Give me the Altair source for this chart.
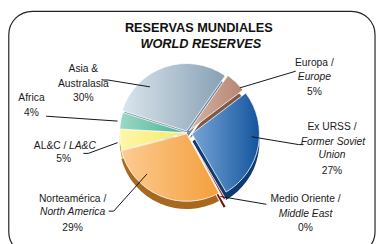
import math
import altair as alt
import pandas as pd

# ---------------- data ----------------
regions = ["Europa", "Ex URSS", "Medio Oriente", "Norteamérica", "AL&C", "Africa", "Asia & Australasia"]
shares = [5, 27, 0.5, 29, 5, 4, 30]          # % of world reserves (Medio Oriente shown as ~0%)

# label lines: (text, italic?)
label_lines = [
    [("Europa /", False), ("Europe", True), ("5%", False)],
    [("Ex URSS /", False), ("Former Soviet", True), ("Union", True), ("27%", False)],
    [("Medio Oriente /", False), ("Middle East", True), ("0%", False)],
    [("Norteamérica /", False), ("North America", True), ("29%", False)],
    [("AL&C /", False), ("LA&C", True), ("5%", False)],
    [("Africa", False), ("4%", False)],
    [("Asia &", False), ("Australasia", False), ("30%", False)],
]
title_lines = ["RESERVAS MUNDIALES", "WORLD RESERVES"]

# ---------------- styles / layout ----------------
W, H = 376, 236
CX, CY, R, DEPTH = 183, 125, 69, 8
START = math.radians(35)
explode = [3, 5, 9, 1, 0, 0, 2]

top_cols = [("#d6b3a2", "#b48672"), ("#77a6d6", "#14549e"), ("#c8402a", "#a02010"),
            ("#fdcb92", "#f39f3c"), ("#fff6a8", "#f7e96a"), ("#9bd9c6", "#46b094"),
            ("#dbe5ec", "#86a0b4")]
side_cols = ["#80584a", "#0c3a72", "#6e150c", "#a9681f", "#bcae32", "#0b6a50", "#6f889e"]

# label line positions (chart px): x centre, y per line
label_pos = [
    [(313, 54), (313, 68), (313, 83)],
    [(331, 119), (332, 134), (331, 148), (331, 164)],
    [(304, 193), (304, 208), (304, 222)],
    [(66, 193), (66, 206), (66, 222)],
    [(43, 138), (76, 138), (57, 152)],
    [(24, 89), (24, 105)],
    [(77, 60), (77, 75), (77, 89)],
]
leaders = [
    [(294, 62), (237, 79)],
    [(302, 137), (297, 137), (249, 129)],
    [(264, 198), (217, 190)],
    [(103, 205), (108, 205), (142, 167)],
    [(77, 146), (82, 146), (112, 135)],
    [(39, 108), (112, 113)],
    [(96, 71), (102, 71), (145, 78)],
]

def grad(c1, c2):
    return {"gradient": "linear", "x1": 0, "y1": 0, "x2": 1, "y2": 0,
            "stops": [{"offset": 0, "color": c1}, {"offset": 1, "color": c2}]}

total = sum(shares)
rows = []
acc = 0.0
for i, (name, v) in enumerate(zip(regions, shares)):
    t0, t1 = acc, acc + v
    acc = t1
    mid = START + (t0 + t1) / 2 / total * 2 * math.pi
    cx = CX + explode[i] * math.sin(mid)
    cy = CY - explode[i] * math.cos(mid)
    rows.append({"region": name, "t0": t0, "t1": t1, "cx": cx, "cy": cy,
                 "cy_side": cy + DEPTH, "top": grad(*top_cols[i]), "side": side_cols[i]})
pie_df = pd.DataFrame(rows)

txt_rows = []
for i, lines in enumerate(label_lines):
    for (t, it), (x, y) in zip(lines, label_pos[i]):
        txt_rows.append({"text": t, "x": x, "y": y, "italic": it})
txt_df = pd.DataFrame(txt_rows)

seg_rows = []
for i, pts in enumerate(leaders):
    for a, b in zip(pts[:-1], pts[1:]):
        seg_rows.append({"x": a[0], "y": a[1], "x2": b[0], "y2": b[1]})
seg_df = pd.DataFrame(seg_rows)

title_df = pd.DataFrame({"text": title_lines, "x": [195, 197], "y": [18, 34],
                         "italic": [False, True]})

xs = alt.Scale(domain=[0, W], nice=False, zero=False)
ys = alt.Scale(domain=[H, 0], nice=False, zero=False)
th = alt.Scale(domain=[0, total], range=[START, START + 2 * math.pi])
FONT = "Liberation Sans Narrow, Arial Narrow, Liberation Sans, Arial, sans-serif"

frame = alt.Chart(pd.DataFrame({"a": [0]})).mark_rect(
    fill="white", stroke="#222", strokeWidth=1.2, cornerRadius=24
).encode(x=alt.value(0.8), x2=alt.value(375), y=alt.value(0.8), y2=alt.value(250))

base = alt.Chart(pie_df)
side = base.mark_arc(outerRadius=R, stroke=None).encode(
    theta=alt.Theta("t0:Q", scale=th), theta2="t1:Q",
    x=alt.X("cx:Q", scale=xs, axis=None), y=alt.Y("cy_side:Q", scale=ys, axis=None),
    fill=alt.Fill("side:N", scale=None),
)
top = base.mark_arc(outerRadius=R, stroke="white", strokeWidth=0.8).encode(
    theta=alt.Theta("t0:Q", scale=th), theta2="t1:Q",
    x=alt.X("cx:Q", scale=xs, axis=None), y=alt.Y("cy:Q", scale=ys, axis=None),
    fill=alt.Fill("top:N", scale=None),
)

rules = alt.Chart(seg_df).mark_rule(color="#111", strokeWidth=1).encode(
    x=alt.X("x:Q", scale=xs, axis=None), y=alt.Y("y:Q", scale=ys, axis=None),
    x2="x2:Q", y2="y2:Q")

def text_layer(df, italic, **kw):
    return alt.Chart(df).transform_filter(
        alt.datum.italic == italic
    ).mark_text(font=FONT, align="center", baseline="middle",
                fontStyle="italic" if italic else "normal", **kw).encode(
        x=alt.X("x:Q", scale=xs, axis=None), y=alt.Y("y:Q", scale=ys, axis=None),
        text="text:N")

lab_n = text_layer(txt_df, False, fontSize=10.5, color="#1a1a1a")
lab_i = text_layer(txt_df, True, fontSize=10.5, color="#1a1a1a")
tit_n = text_layer(title_df, False, fontSize=13, fontWeight="bold", color="#111")
tit_i = text_layer(title_df, True, fontSize=13, fontWeight="bold", color="#111")

chart = alt.layer(frame, side, top, rules, lab_n, lab_i, tit_n, tit_i).properties(
    width=W, height=H, padding=0, autosize=alt.AutoSizeParams(type="none")
).configure_view(stroke=None)

chart.save("out.html", embed_options={"renderer": "svg", "actions": False})
